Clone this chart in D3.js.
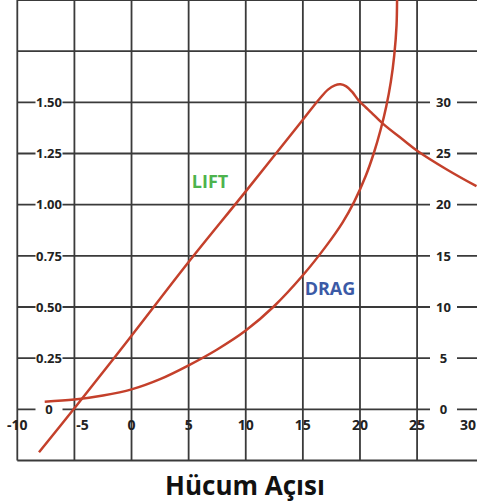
<!DOCTYPE html>
<html>
<head>
<meta charset="utf-8">
<script src="https://cdn.jsdelivr.net/npm/d3@7"></script>
<style>
  body { margin: 0; background: #fff; }
  text { font-family: 'Open Sans', sans-serif; font-weight: bold; }
</style>
</head>
<body>
<svg id="chart" width="477" height="504"></svg>
<script>
// angle of attack ticks (bottom), lift coefficient (left), drag (right)
var alphaTicks = [-10, -5, 0, 5, 10, 15, 20, 25, 30]
var alphaGrid = [-10, -5, 0, 5, 10, 15, 20, 25]
var liftTicks = [0, 0.25, 0.5, 0.75, 1.0, 1.25, 1.5]
var liftTickLabels = ['0', '0.25', '0.50', '0.75', '1.00', '1.25', '1.50']
var liftGrid = [-0.25, 0, 0.25, 0.5, 0.75, 1.0, 1.25, 1.5, 1.75, 2.0]
var dragTicks = [0, 5, 10, 15, 20, 25, 30]

// curves
var liftAlpha = [-8.1, -5, 0, 5, 10, 15, 16.5, 17.2, 17.8, 18.3, 18.8, 19.3, 19.9, 20.5, 21, 22, 23.8, 25.1, 27.6, 30.2]
var liftValue = [-0.21, 0.005, 0.36, 0.72, 1.065, 1.415, 1.52, 1.562, 1.583, 1.588, 1.578, 1.552, 1.508, 1.476, 1.45, 1.396, 1.316, 1.26, 1.172, 1.09]
var dragAlpha = [-7.6, -5, -2.5, 0, 2.5, 5, 7.5, 10, 12.5, 15, 17, 18.5, 19.5, 20.5, 21.2, 21.8, 22.3, 22.7, 23.0, 23.2, 23.25]
var dragValue = [0.75, 0.95, 1.35, 1.95, 2.95, 4.3, 5.85, 7.7, 10.1, 13.1, 15.9, 18.3, 20.3, 22.8, 25.0, 27.3, 29.6, 32.0, 34.6, 37.5, 40.5]

var svg = d3.select('#chart')
var x = d3.scaleLinear().domain([-10, 30]).range([17.3, 474.2])
var yL = d3.scaleLinear().domain([-0.25, 2.0]).range([460.5, 0])
var yR = d3.scaleLinear().domain([-5, 40]).range([460.5, 0])
var gridColor = '#3a3a3a'
var bottom = yL(-0.25)

// grid
svg.append('g').selectAll('line').data(liftGrid).enter().append('line')
  .attr('x1', x(-10)).attr('x2', 477)
  .attr('y1', function (d) { return yL(d) }).attr('y2', function (d) { return yL(d) })
  .attr('stroke', gridColor).attr('stroke-width', 1.8)
svg.append('g').selectAll('line').data(alphaGrid).enter().append('line')
  .attr('x1', function (d) { return x(d) }).attr('x2', function (d) { return x(d) })
  .attr('y1', 0).attr('y2', bottom)
  .attr('stroke', gridColor).attr('stroke-width', 1.8)

// left axis labels
var left = svg.append('g')
left.selectAll('rect').data(liftTicks).enter().append('rect')
  .attr('x', 35.5).attr('width', 27)
  .attr('y', function (d) { return yL(d) - 7 }).attr('height', 14)
  .attr('fill', '#fff')
left.selectAll('text').data(liftTicks).enter().append('text')
  .attr('x', 49).attr('y', function (d) { return yL(d) })
  .attr('dy', '0.36em').attr('text-anchor', 'middle')
  .attr('font-size', 13).attr('fill', '#222')
  .text(function (d, i) { return liftTickLabels[i] })

// right axis labels
var right = svg.append('g')
right.selectAll('rect').data(dragTicks).enter().append('rect')
  .attr('x', 430).attr('width', 27)
  .attr('y', function (d) { return yR(d) - 7 }).attr('height', 14)
  .attr('fill', '#fff')
right.selectAll('text').data(dragTicks).enter().append('text')
  .attr('x', 443.5).attr('y', function (d) { return yR(d) })
  .attr('dy', '0.36em').attr('text-anchor', 'middle')
  .attr('font-size', 13).attr('fill', '#222')
  .text(function (d) { return d })

// bottom labels
svg.append('g').selectAll('text').data(alphaTicks).enter().append('text')
  .attr('x', function (d) { return d === 30 ? 476 : x(d) + (d === -5 ? 8 : 0) })
  .attr('y', 430)
  .attr('text-anchor', function (d) { return d === 30 ? 'end' : 'middle' })
  .attr('font-size', 14).attr('fill', '#222')
  .text(function (d) { return d })

// curves
var line = d3.line().curve(d3.curveCatmullRom)
var red = '#c4402b'
svg.append('path')
  .attr('d', line(liftAlpha.map(function (a, i) { return [x(a), yL(liftValue[i])] })))
  .attr('fill', 'none').attr('stroke', red).attr('stroke-width', 2.5)
svg.append('path')
  .attr('d', line(dragAlpha.map(function (a, i) { return [x(a), yR(dragValue[i])] })))
  .attr('fill', 'none').attr('stroke', red).attr('stroke-width', 2.5)

svg.append('text').attr('x', 210).attr('y', 188)
  .attr('text-anchor', 'middle').attr('font-size', 18).attr('fill', '#4db34d')
  .text('LIFT')
svg.append('text').attr('x', 330).attr('y', 295)
  .attr('text-anchor', 'middle').attr('font-size', 18).attr('fill', '#3b5aa6')
  .text('DRAG')

svg.append('text').attr('x', 245).attr('y', 495)
  .attr('text-anchor', 'middle').attr('font-size', 26).attr('fill', '#111')
  .text('Hücum Açısı')
</script>
</body>
</html>
